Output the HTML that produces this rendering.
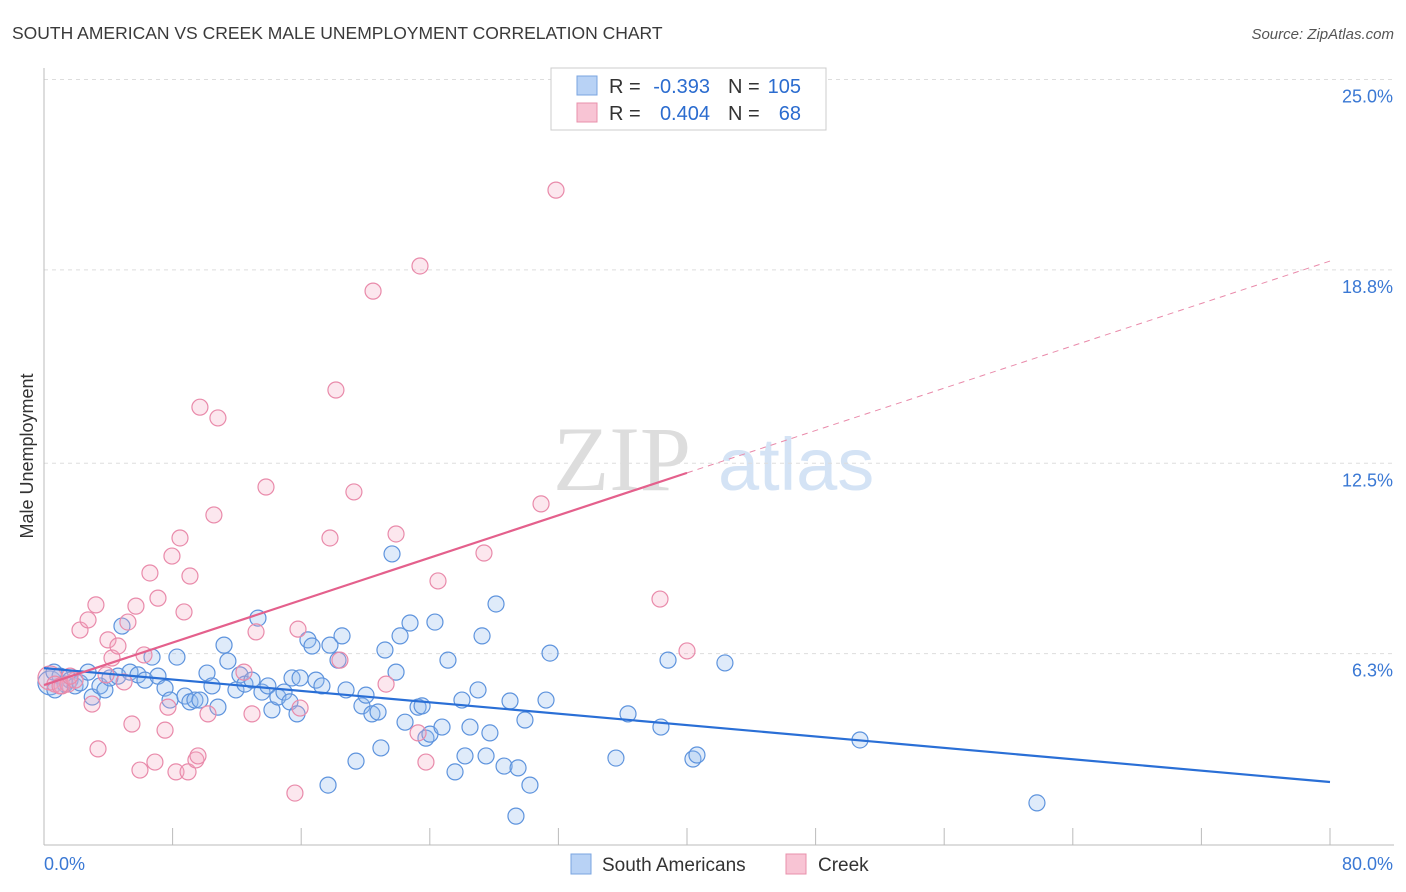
<!DOCTYPE html>
<html><head><meta charset="utf-8">
<style>
body{margin:0;background:#fff;font-family:"Liberation Sans",sans-serif;}
svg{display:block}
</style></head>
<body>
<svg id="chart" width="1406" height="892" xmlns="http://www.w3.org/2000/svg">
<text x="12" y="39" font-size="17.5" fill="#3a3a3a">SOUTH AMERICAN VS CREEK MALE UNEMPLOYMENT CORRELATION CHART</text>
<text x="1394" y="39" font-size="15" fill="#555" font-style="italic" text-anchor="end">Source: ZipAtlas.com</text>
<text x="0" y="0" transform="translate(33,456) rotate(-90)" font-size="18" fill="#333" text-anchor="middle">Male Unemployment</text>
<g>
<text x="553" y="490" font-size="92" fill="#ddd" font-family="Liberation Serif,serif">ZIP</text>
<text x="718" y="490" font-size="74" fill="#d4e3f5">atlas</text>
</g>
<g id="grid"></g>
<g id="axes"></g>
<g id="pts"></g>
<g id="trends"></g>
<g>
<rect x="551" y="68" width="275" height="62" fill="#fff" stroke="#ccc"/>
<rect x="577" y="76" width="20" height="19" fill="#b8d2f5" stroke="#7aa4e0"/>
<text x="609" y="93" font-size="20" fill="#333">R =</text>
<text x="710" y="93" font-size="20" fill="#2b6ccf" text-anchor="end">-0.393</text>
<text x="728" y="93" font-size="20" fill="#333">N =</text>
<text x="801" y="93" font-size="20" fill="#2b6ccf" text-anchor="end">105</text>
<rect x="577" y="103" width="20" height="19" fill="#f8c4d4" stroke="#e890ab"/>
<text x="609" y="120" font-size="20" fill="#333">R =</text>
<text x="710" y="120" font-size="20" fill="#2b6ccf" text-anchor="end">0.404</text>
<text x="728" y="120" font-size="20" fill="#333">N =</text>
<text x="801" y="120" font-size="20" fill="#2b6ccf" text-anchor="end">68</text>
</g>
<g>
<rect x="571" y="854" width="20" height="20" fill="#b8d2f5" stroke="#7aa4e0"/>
<text x="602" y="871" font-size="19" fill="#333">South Americans</text>
<rect x="786" y="854" width="20" height="20" fill="#f8c4d4" stroke="#e890ab"/>
<text x="818" y="871" font-size="19" fill="#333">Creek</text>
</g>
</svg>
<script>
const blueX=[0.37,0.68,1.0,1.31,1.62,1.93,2.24,2.74,3.0,3.48,3.79,4.1,4.6,4.85,5.35,5.85,6.28,6.72,7.09,7.53,7.84,8.27,8.77,9.08,9.39,9.7,10.14,10.45,10.82,11.2,11.44,11.94,12.19,12.5,12.94,13.31,13.56,13.93,14.18,14.55,14.93,15.3,15.43,15.74,15.93,16.42,16.67,16.92,17.29,17.67,17.79,18.29,18.54,18.79,19.41,19.78,20.03,20.4,20.78,20.96,21.21,21.65,21.9,22.15,22.46,22.77,23.27,23.52,23.76,24.01,24.32,24.76,25.13,25.57,26.0,26.19,26.5,27.0,27.25,27.5,27.74,28.12,28.62,28.99,29.49,29.92,30.23,31.23,31.48,35.58,36.33,38.38,38.82,40.37,40.62,42.36,50.76,61.77,29.36,0.62];
const blueY=[5.90,5.67,6.12,5.86,5.99,5.80,5.90,6.25,5.44,5.80,5.67,6.06,6.12,7.75,6.25,6.16,5.99,6.74,6.12,5.73,5.34,6.74,5.47,5.28,5.34,5.34,6.22,5.80,5.11,7.13,6.61,5.67,6.16,5.86,5.99,8.01,5.60,5.80,5.02,5.44,5.60,5.28,6.06,4.89,6.06,7.30,7.10,5.99,5.80,2.57,7.13,6.64,7.43,5.67,3.35,5.15,5.50,4.89,4.95,3.78,6.97,10.10,6.25,7.43,4.62,7.85,5.11,5.15,4.10,4.23,7.88,4.46,6.64,3.00,5.34,3.52,4.46,5.67,7.43,3.52,4.27,8.47,3.19,5.31,3.13,4.69,2.57,5.34,6.87,3.45,4.89,4.46,6.64,3.42,3.55,6.55,4.04,1.99,1.56,6.25];
const pinkX=[0.37,0.68,1.12,1.49,1.93,2.24,2.74,2.99,3.23,3.36,3.86,3.98,4.23,4.6,4.98,5.22,5.47,5.72,5.97,6.22,6.59,6.9,7.09,7.53,7.71,7.96,8.21,8.46,8.71,8.96,9.08,9.45,9.58,9.7,10.2,10.57,10.82,12.44,12.94,13.19,13.81,15.61,15.8,15.93,17.79,18.16,18.41,19.28,20.47,21.28,21.9,23.39,23.27,24.51,27.37,30.92,31.85,38.32,40.0,23.76,1.0,1.62];
const pinkY=[6.06,5.86,5.80,5.86,5.99,7.62,7.95,5.21,8.44,3.75,6.16,7.30,6.71,7.10,5.93,7.88,4.56,8.40,3.06,6.81,9.48,3.32,8.66,4.36,5.11,10.03,3.00,10.62,8.21,3.00,9.38,3.39,3.52,14.88,4.89,11.37,14.53,6.25,4.89,7.56,12.28,2.31,7.65,5.08,10.62,15.44,6.64,12.12,18.66,5.86,10.75,19.48,4.27,9.22,10.13,11.73,21.95,8.63,6.94,3.32,5.80,6.12];
const yTicks=[6.3,12.5,18.8,25.0];
const xTickLabels=["0.0%","80.0%"];
const blueTrend=[6.38,2.67];
const pinkTrend=[5.83,12.74,19.64];
const NS="http://www.w3.org/2000/svg";
function xs(v){return 44+v*16.075;}
function ys(v){return 864-v*30.7;}
function mk(tag,attrs,parent){const e=document.createElementNS(NS,tag);for(const k in attrs)e.setAttribute(k,attrs[k]);parent.appendChild(e);return e;}
const grid=document.getElementById('grid'),axes=document.getElementById('axes'),pts=document.getElementById('pts'),tr=document.getElementById('trends');
yTicks.forEach(t=>{
  const y=ys(t)-17;
  const l=mk('line',{x1:44,x2:1394,y1:y,y2:y,stroke:'#ddd','stroke-dasharray':'4,4'},grid);
  
  
  const tx=mk('text',{x:1393,y:ys(t)+6,'font-size':18,fill:'#3a78d4','text-anchor':'end'},axes);
  tx.textContent=t.toFixed(1)+'%';
  
  
});
const ax=mk('line',{x1:44,x2:1394,y1:845,y2:845,stroke:'#bbb'},axes);


const ay=mk('line',{x1:44,x2:44,y1:68,y2:845,stroke:'#bbb'},axes);


for(let i=0;i<=10;i++){
  const x=xs(i*8);
  const tk=mk('line',{x1:x,x2:x,y1:828,y2:845,stroke:'#bbb'},axes);
  
  
}
const xl0=mk('text',{x:44,y:870,'font-size':18,fill:'#3a78d4'},axes);xl0.textContent=xTickLabels[0];


const xl1=mk('text',{x:1393,y:870,'font-size':18,fill:'#3a78d4','text-anchor':'end'},axes);xl1.textContent=xTickLabels[1];


blueX.forEach((v,i)=>{
  const r=i<1?12:8;
  const c=mk('circle',{cx:xs(v),cy:ys(blueY[i]),r:r,fill:'rgba(150,190,240,0.3)',stroke:'#5d93dd','stroke-width':1.2},pts);
  
  
});
pinkX.forEach((v,i)=>{
  const r=i<1?12:8;
  const c=mk('circle',{cx:xs(v),cy:ys(pinkY[i]),r:r,fill:'rgba(245,170,195,0.28)',stroke:'#e98aaa','stroke-width':1.2},pts);
  
  
});
const bl=mk('line',{x1:xs(0),y1:ys(blueTrend[0]),x2:xs(80),y2:ys(blueTrend[1]),stroke:'#2a6fd6','stroke-width':2.2},tr);


const pl=mk('line',{x1:xs(0),y1:ys(pinkTrend[0]),x2:xs(40),y2:ys(pinkTrend[1]),stroke:'#e4608c','stroke-width':2.2},tr);


const pd=mk('line',{x1:xs(40),y1:ys(pinkTrend[1]),x2:xs(80),y2:ys(pinkTrend[2]),stroke:'#e98aaa','stroke-width':1,'stroke-dasharray':'6,5'},tr);


</script>
</body></html>
